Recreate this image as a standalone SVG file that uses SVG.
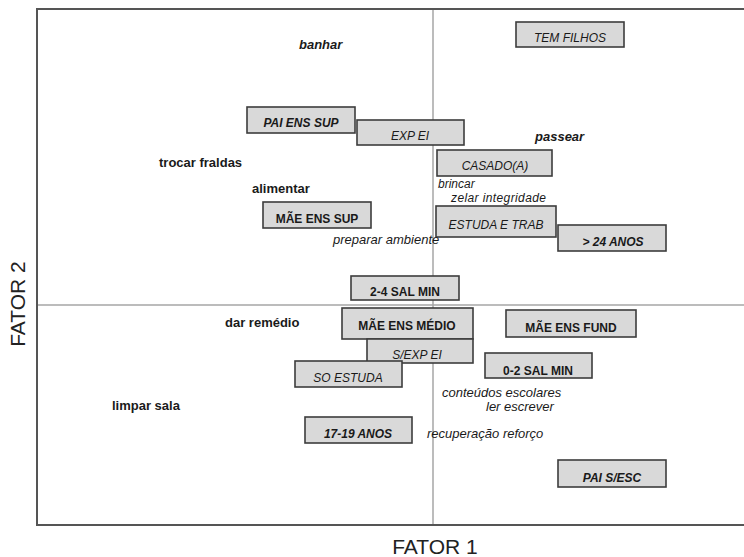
<svg xmlns="http://www.w3.org/2000/svg" width="744" height="557" viewBox="0 0 744 557">
<style>
text{font-family:"Liberation Sans",Arial,sans-serif;fill:#1a1a1a}
.box{fill:#d9d9d9;stroke:#3c3c3c;stroke-width:1.6}
.bt{font-size:12px;text-anchor:middle}
.b{font-weight:bold}
.i{font-style:italic}
.lb{font-size:13px}
.sm{font-size:12px}
.ax{stroke:#a6a6a6;stroke-width:1.5;fill:none}
.frame{stroke:#555;stroke-width:2;fill:none}
.title{font-size:21px;fill:#222}
</style>
<rect width="744" height="557" fill="#fff"/>
<g id="frame">
<path class="frame" d="M746 9 H37 V525 H746"/>
</g>
<g id="axes">
<line class="ax" x1="433" y1="10" x2="433" y2="524"/>
<line class="ax" x1="38" y1="305" x2="744" y2="305"/>
</g>
<g id="connectors"></g>

<g id="tem-filhos"><rect class="box" x="516" y="22" width="108" height="25"/><text class="bt i" x="570" y="42">TEM FILHOS</text></g>
<g id="pai-ens-sup"><rect class="box" x="247" y="107" width="108" height="26"/><text class="bt b i" x="301" y="127">PAI ENS SUP</text></g>
<g id="exp-ei"><rect class="box" x="357" y="120" width="107" height="25"/><text class="bt i" x="410" y="140">EXP EI</text></g>
<g id="casado"><rect class="box" x="437" y="150" width="115" height="26"/><text class="bt i" x="495" y="170">CASADO(A)</text></g>
<g id="mae-ens-sup"><rect class="box" x="263" y="202" width="108" height="26"/><text class="bt b" x="317" y="223">MÃE ENS SUP</text></g>
<g id="estuda-e-trab"><rect class="box" x="436" y="206" width="120" height="31"/><text class="bt i" x="496" y="229">ESTUDA E TRAB</text></g>
<g id="mais-24-anos"><rect class="box" x="558" y="225" width="108" height="26"/><text class="bt b i" x="613" y="246">&gt; 24 ANOS</text></g>
<g id="sal-2-4"><rect class="box" x="351" y="276" width="108" height="24"/><text class="bt b" x="405" y="296">2-4 SAL MIN</text></g>
<g id="mae-ens-medio"><rect class="box" x="342" y="308" width="131" height="31"/><text class="bt b" x="407" y="330">MÃE ENS MÉDIO</text></g>
<g id="mae-ens-fund"><rect class="box" x="506" y="310" width="130" height="27"/><text class="bt b" x="571" y="332">MÃE ENS FUND</text></g>
<g id="s-exp-ei"><rect class="box" x="367" y="339" width="106" height="24"/><text class="bt i" x="417" y="359">S/EXP EI</text></g>
<g id="sal-0-2"><rect class="box" x="485" y="353" width="107" height="25"/><text class="bt b" x="538" y="375">0-2 SAL MIN</text></g>
<g id="so-estuda"><rect class="box" x="295" y="361" width="107" height="26"/><text class="bt i" x="348" y="382">SO ESTUDA</text></g>
<g id="anos-17-19"><rect class="box" x="305" y="417" width="107" height="26"/><text class="bt b i" x="358" y="438">17-19 ANOS</text></g>
<g id="pai-s-esc"><rect class="box" x="558" y="460" width="108" height="27"/><text class="bt b i" x="612" y="482">PAI S/ESC</text></g>

<g id="labels">
<text class="lb b i" x="299" y="49">banhar</text>
<text class="lb b" x="159" y="167">trocar fraldas</text>
<text class="lb b" x="252" y="193">alimentar</text>
<text class="lb i" x="333" y="244">preparar ambiente</text>
<text class="lb b i" x="535" y="141">passear</text>
<text class="sm i" x="438" y="188">brincar</text>
<text class="sm i" x="451" y="202" textLength="95">zelar integridade</text>
<text class="lb b" x="225" y="327">dar remédio</text>
<text class="lb b" x="112" y="410">limpar sala</text>
<text class="lb i" x="442" y="397">conteúdos escolares</text>
<text class="lb i" x="486" y="411">ler escrever</text>
<text class="lb i" x="427" y="438">recuperação reforço</text>
</g>
<g id="axis-titles">
<text class="title" x="435" y="554" text-anchor="middle">FATOR 1</text>
<text class="title" x="0" y="0" text-anchor="middle" transform="translate(25 304) rotate(-90)">FATOR 2</text>
</g>
</svg>
